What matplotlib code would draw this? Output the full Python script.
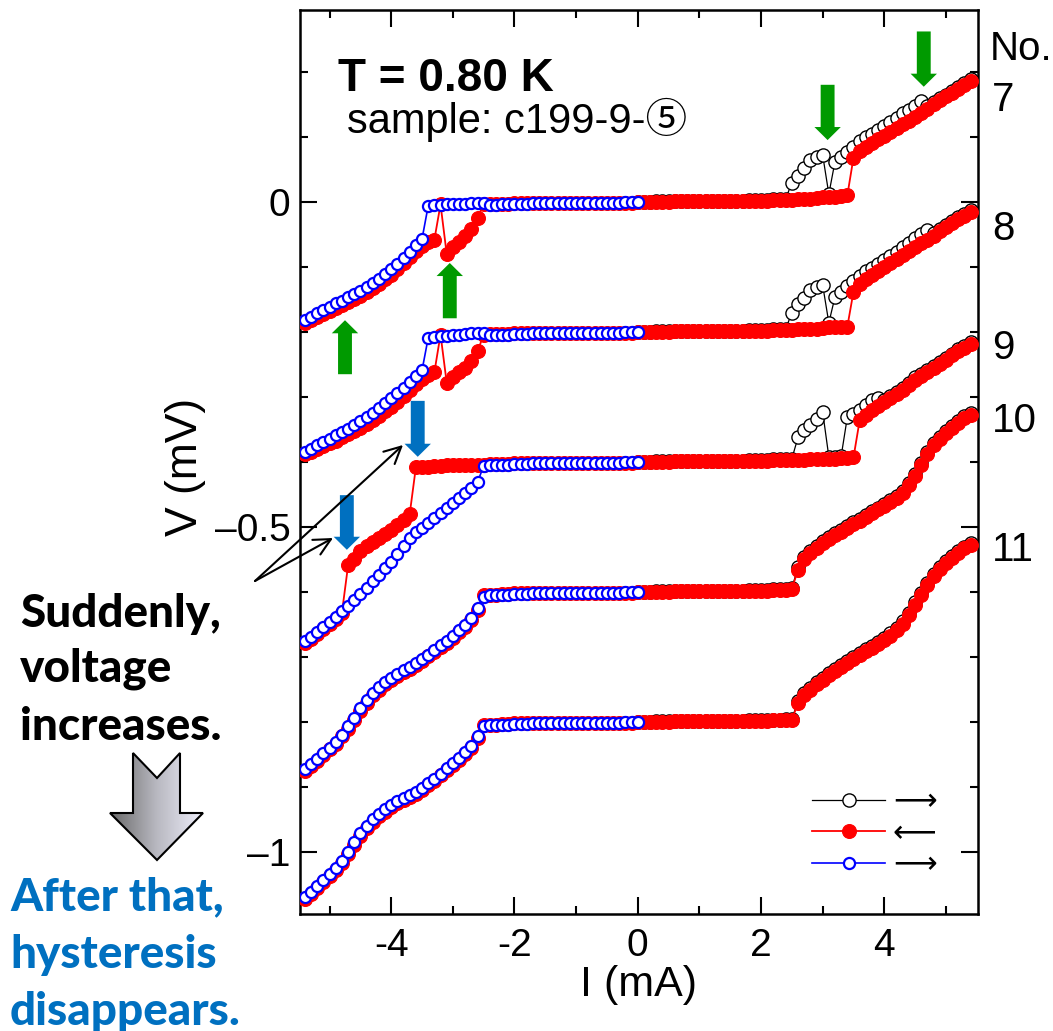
import numpy as np
import matplotlib
matplotlib.use('Agg')
import matplotlib.pyplot as plt
from matplotlib.ticker import MultipleLocator
from matplotlib.colors import LinearSegmentedColormap
from matplotlib.patches import Polygon

plt.rcParams['font.family'] = ['Liberation Sans', 'DejaVu Sans']
plt.rcParams['axes.unicode_minus'] = False

# current steps (mA) of the three sweeps
I_up = np.round(np.arange(0, 55) * 0.1, 1)          # 0 -> 5.4   (black, ->)
I_down = np.round(np.arange(54, -55, -1) * 0.1, 1)  # 5.4 -> -5.4 (red, <-)
I_neg = np.round(np.arange(-54, 1) * 0.1, 1)        # -5.4 -> 0  (blue, ->)

curve_no = ['7', '8', '9', '10', '11']
offsets = [0.0, -0.2, -0.4, -0.6, -0.8]   # vertical shift of each curve (mV)

# superconducting plateau, 0 -> 2.4 mA
flat_up = [0.000, 0.000, 0.000, 0.001, 0.001, 0.001, 0.001, 0.001, 0.001, 0.001,
           0.001, 0.002, 0.002, 0.002, 0.002, 0.002, 0.002, 0.002, 0.003, 0.003,
           0.003, 0.003, 0.004, 0.004, 0.005]
# red sweep plateau, 2.4 -> 0 mA
flat_down = [0.003, 0.003, 0.003, 0.002, 0.002, 0.002, 0.002, 0.002, 0.002, 0.002,
             0.002, 0.001, 0.001, 0.001, 0.001, 0.001, 0.001, 0.001, 0.001, 0.000,
             0.000, 0.000, 0.000, 0.000, 0.000]
# red sweep plateau, -0.1 -> -2.0 mA
flat_neg = [-0.001, -0.001, -0.001, -0.001, -0.001, -0.002, -0.002, -0.002, -0.002, -0.002,
            -0.002, -0.002, -0.002, -0.002, -0.002, -0.002, -0.002, -0.002, -0.002, -0.002]
# blue sweep plateau, -2.4 -> 0 mA
flat_blue = [-0.005, -0.005, -0.004, -0.004, -0.003, -0.003, -0.003, -0.002, -0.002, -0.002,
             -0.002, -0.002, -0.002, -0.001, -0.001, -0.001, -0.001, -0.001, -0.001, -0.001,
             -0.001, -0.001, 0.000, 0.000, 0.000]

# ---- No. 7 ----
black7 = flat_up + [0.029, 0.040, 0.052, 0.065, 0.069,
                    0.072, 0.012, 0.062, 0.069, 0.077, 0.085, 0.093, 0.099, 0.105, 0.111,
                    0.117, 0.123, 0.129, 0.136, 0.142, 0.148, 0.155, 0.147, 0.153, 0.159,
                    0.165, 0.171, 0.177, 0.183, 0.189]
red7 = [0.186, 0.180, 0.174, 0.168, 0.162, 0.156, 0.150, 0.143, 0.137, 0.131,
        0.125, 0.119, 0.113, 0.107, 0.101, 0.096, 0.091, 0.085, 0.078, 0.068,
        0.010, 0.009, 0.008, 0.008, 0.007, 0.006, 0.005, 0.004, 0.004, 0.003] + flat_down + flat_neg + \
       [-0.003, -0.003, -0.003, -0.003, -0.004, -0.025, -0.042, -0.053, -0.061, -0.070,
        -0.080, -0.004, -0.058, -0.062, -0.068, -0.076, -0.085, -0.094, -0.103, -0.112,
        -0.119, -0.126, -0.132, -0.138, -0.144, -0.149, -0.154, -0.159, -0.163, -0.168,
        -0.172, -0.177, -0.181, -0.186]
blue7 = [-0.182, -0.177, -0.171, -0.166, -0.161, -0.156, -0.152, -0.147, -0.142, -0.137,
         -0.131, -0.125, -0.118, -0.111, -0.104, -0.095, -0.086, -0.077, -0.067, -0.057,
         -0.006, -0.005, -0.005, -0.004, -0.004, -0.003, -0.003, -0.002, -0.002, -0.002] + flat_blue

# ---- No. 8 ----
black8 = flat_up + [0.029, 0.043, 0.052, 0.065, 0.069,
                    0.072, 0.014, 0.054, 0.062, 0.070, 0.078, 0.086, 0.093, 0.099, 0.105,
                    0.111, 0.117, 0.123, 0.130, 0.137, 0.144, 0.150, 0.156, 0.152, 0.158,
                    0.164, 0.170, 0.176, 0.182, 0.188]
red8 = [0.185, 0.179, 0.173, 0.167, 0.161, 0.155, 0.148, 0.142, 0.136, 0.130,
        0.124, 0.118, 0.112, 0.106, 0.100, 0.094, 0.088, 0.082, 0.074, 0.062,
        0.008, 0.008, 0.007, 0.007, 0.006, 0.005, 0.005, 0.004, 0.004, 0.003] + flat_down + flat_neg + \
       [-0.003, -0.003, -0.003, -0.003, -0.004, -0.030, -0.045, -0.055, -0.062, -0.070,
        -0.078, -0.004, -0.062, -0.066, -0.072, -0.080, -0.089, -0.098, -0.107, -0.115,
        -0.122, -0.129, -0.135, -0.141, -0.147, -0.152, -0.157, -0.162, -0.167, -0.171,
        -0.175, -0.180, -0.184, -0.188]
blue8 = [-0.185, -0.180, -0.174, -0.169, -0.164, -0.159, -0.154, -0.149, -0.143, -0.137,
         -0.131, -0.124, -0.117, -0.110, -0.102, -0.094, -0.086, -0.077, -0.068, -0.059,
         -0.009, -0.008, -0.007, -0.006, -0.005, -0.004, -0.003, -0.002, -0.002, -0.002] + flat_blue

# ---- No. 9 ----
black9 = flat_up + [0.005, 0.038, 0.049, 0.057, 0.066,
                    0.077, 0.008, 0.008, 0.009, 0.069, 0.074, 0.080, 0.088, 0.095, 0.099,
                    0.096, 0.101, 0.107, 0.114, 0.121, 0.130, 0.136, 0.142, 0.148, 0.154,
                    0.160, 0.166, 0.173, 0.179, 0.185]
red9 = [0.181, 0.176, 0.170, 0.164, 0.157, 0.151, 0.145, 0.139, 0.133, 0.126,
        0.118, 0.111, 0.104, 0.098, 0.092, 0.086, 0.080, 0.073, 0.064, 0.007,
        0.006, 0.006, 0.005, 0.005, 0.004, 0.004, 0.004, 0.003, 0.003, 0.003] + flat_down + flat_neg + \
       [-0.003, -0.003, -0.003, -0.003, -0.004, -0.004, -0.004, -0.004, -0.005, -0.005,
        -0.005, -0.006, -0.006, -0.007, -0.007, -0.008, -0.080, -0.089, -0.097, -0.104,
        -0.110, -0.117, -0.123, -0.129, -0.137, -0.149, -0.159, -0.232, -0.241, -0.249,
        -0.257, -0.265, -0.272, -0.279]
blue9 = [-0.276, -0.269, -0.261, -0.254, -0.246, -0.238, -0.229, -0.221, -0.212, -0.203,
         -0.193, -0.183, -0.173, -0.163, -0.153, -0.141, -0.129, -0.117, -0.108, -0.101,
         -0.094, -0.086, -0.078, -0.070, -0.063, -0.056, -0.048, -0.040, -0.031, -0.006] + flat_blue

# ---- No. 10 ----
black10 = flat_up + [0.006, 0.038, 0.054, 0.063, 0.071,
                     0.078, 0.085, 0.091, 0.096, 0.102, 0.108, 0.113, 0.119, 0.125, 0.130,
                     0.136, 0.141, 0.147, 0.155, 0.167, 0.181, 0.198, 0.215, 0.229, 0.239,
                     0.248, 0.256, 0.263, 0.270, 0.276]
red10 = [0.273, 0.267, 0.260, 0.253, 0.245, 0.236, 0.226, 0.212, 0.195, 0.178,
         0.164, 0.153, 0.145, 0.139, 0.133, 0.127, 0.122, 0.116, 0.110, 0.105,
         0.099, 0.093, 0.088, 0.082, 0.075, 0.068, 0.060, 0.051, 0.034, 0.005] + flat_down + flat_neg + \
        [-0.003, -0.003, -0.004, -0.004, -0.005, -0.027, -0.043, -0.053, -0.062, -0.070,
         -0.078, -0.085, -0.092, -0.099, -0.106, -0.112, -0.118, -0.123, -0.129, -0.135,
         -0.142, -0.150, -0.159, -0.170, -0.183, -0.197, -0.210, -0.222, -0.233, -0.242,
         -0.251, -0.259, -0.267, -0.275]
blue10 = [-0.272, -0.264, -0.256, -0.248, -0.239, -0.230, -0.219, -0.206, -0.193, -0.179,
          -0.166, -0.155, -0.146, -0.138, -0.132, -0.126, -0.120, -0.115, -0.109, -0.103,
          -0.096, -0.089, -0.082, -0.075, -0.067, -0.059, -0.050, -0.040, -0.024, -0.007] + flat_blue

# ---- No. 11 ----
black11 = flat_up + [0.005, 0.032, 0.045, 0.053, 0.061,
                     0.068, 0.075, 0.082, 0.088, 0.094, 0.100, 0.106, 0.112, 0.117, 0.123,
                     0.130, 0.137, 0.145, 0.155, 0.168, 0.184, 0.199, 0.214, 0.228, 0.239,
                     0.248, 0.256, 0.263, 0.270, 0.276]
red11 = [0.273, 0.267, 0.260, 0.253, 0.245, 0.236, 0.225, 0.211, 0.196, 0.180,
         0.164, 0.151, 0.141, 0.133, 0.127, 0.120, 0.114, 0.109, 0.103, 0.097,
         0.091, 0.085, 0.079, 0.072, 0.065, 0.058, 0.050, 0.042, 0.029, 0.004] + flat_down + flat_neg + \
        [-0.003, -0.003, -0.004, -0.004, -0.005, -0.025, -0.039, -0.049, -0.058, -0.066,
         -0.074, -0.082, -0.090, -0.097, -0.104, -0.110, -0.115, -0.120, -0.125, -0.131,
         -0.138, -0.145, -0.153, -0.163, -0.175, -0.189, -0.203, -0.216, -0.227, -0.237,
         -0.246, -0.255, -0.264, -0.272]
blue11 = [-0.269, -0.261, -0.252, -0.243, -0.234, -0.224, -0.213, -0.199, -0.185, -0.171,
          -0.159, -0.149, -0.141, -0.134, -0.128, -0.122, -0.117, -0.112, -0.107, -0.101,
          -0.094, -0.087, -0.079, -0.071, -0.063, -0.055, -0.046, -0.036, -0.022, -0.006] + flat_blue

blacks = [black7, black8, black9, black10, black11]
reds = [red7, red8, red9, red10, red11]
blues = [blue7, blue8, blue9, blue10, blue11]

# arrows marking the jumps: (I, V tail, V tip)
green_arrows = [(3.08, 0.180, 0.095), (4.64, 0.262, 0.177),
                (-4.75, -0.265, -0.182), (-3.05, -0.179, -0.094)]
blue_arrows = [(-4.72, -0.451, -0.535), (-3.57, -0.306, -0.392)]

W, H = 1053, 1031
fig = plt.figure(figsize=(W / 100, H / 100), dpi=100, facecolor='white')
ax = fig.add_axes([300 / W, (H - 914) / H, 678 / W, 904 / H])

for k in range(len(curve_no)):
    off = offsets[k]
    ax.plot(I_up, np.array(blacks[k]) + off, '-o', color='black', lw=0.9, ms=9.5,
            mfc='white', mec='black', mew=1.0, zorder=2, label='\u27f6' if k == 0 else None)
    ax.plot(I_down, np.array(reds[k]) + off, '-o', color='red', lw=1.3, ms=10,
            mfc='red', mec='red', mew=0.8, zorder=3, label='\u27f5' if k == 0 else None)
    ax.plot(I_neg, np.array(blues[k]) + off, '-o', color='blue', lw=1.2, ms=8,
            mfc='white', mec='blue', mew=1.6, zorder=4, label='\u27f6' if k == 0 else None)

arrow_kw = dict(arrowstyle='simple,head_width=0.95,head_length=0.47,tail_width=0.5',
                mutation_scale=20, shrinkA=0, shrinkB=0, lw=0)
for x, v0, v1 in green_arrows:
    ax.annotate('', xy=(x, v1), xytext=(x, v0),
                arrowprops=dict(color='#009a00', **arrow_kw), zorder=6)
for x, v0, v1 in blue_arrows:
    ax.annotate('', xy=(x, v1), xytext=(x, v0),
                arrowprops=dict(color='#0070c0', **arrow_kw), zorder=6)

ax.set_xlim(-5.48, 5.52)
ax.set_ylim(-1.095, 0.295)
ax.set_xticks([-4, -2, 0, 2, 4])
ax.set_xticklabels(['-4', '-2', '0', '2', '4'])
ax.set_yticks([-1, -0.5, 0])
ax.set_yticklabels(['\u20131', '\u20130.5', '0'])
ax.xaxis.set_minor_locator(MultipleLocator(1))
ax.yaxis.set_minor_locator(MultipleLocator(0.1))
ax.tick_params(which='both', direction='in', top=True, right=True, width=1.5, color='black')
ax.tick_params(which='major', length=12, labelsize=28)
ax.tick_params(which='minor', length=6)
ax.tick_params(axis='x', pad=10)
ax.tick_params(axis='y', pad=7)
for s in ax.spines.values():
    s.set_linewidth(1.8)

ax.set_xlabel('I (mA)', fontsize=31, va='center')
ax.xaxis.set_label_coords(0.5, -(985 - 914) / 904)
ax.set_ylabel('V (mV)', fontsize=32, va='center', ha='center')
ax.yaxis.set_label_coords((186 - 300) / 678, 1 - (467 - 10) / 904)

leg = ax.legend(loc='center left', bbox_to_anchor=((812 - 300) / 678, 1 - (834 - 10) / 904),
                frameon=False, fontsize=22, handlelength=2.4, handletextpad=0.25,
                labelspacing=0.05, borderpad=0, borderaxespad=0, numpoints=1)

# overlay in pixel coordinates for the annotations around the plot
ov = fig.add_axes([0, 0, 1, 1])
ov.axis('off')

ov.text(338, 91, 'T = 0.80 K', fontsize=33, fontweight='bold')
ov.text(347, 133, 'sample: c199-9-\u2464', fontsize=30,
        family=['Liberation Sans', 'Noto Sans CJK JP', 'DejaVu Sans'])

ov.text(990, 60, 'No.', fontsize=29)
for lab, y in zip(curve_no, [111, 240, 359, 432, 561]):
    ov.text(992, y, lab, fontsize=29)

pop = dict(fontsize=33, fontweight='black', family=['Lato', 'DejaVu Sans'])
for txt, y in zip(['Suddenly,', 'voltage', 'increases.'], [627, 682, 740]):
    ov.text(20, y, txt, color='black', **pop)
for txt, y in zip(['After that,', 'hysteresis', 'disappears.'], [910, 968, 1025]):
    ov.text(10, y, txt, color='#0070c0', **pop)

# thin arrows pointing at the sudden jumps
for tip in [(333, 538), (403, 445)]:
    ov.annotate('', xy=tip, xytext=(255, 581),
                arrowprops=dict(arrowstyle='->,head_length=0.6,head_width=0.3',
                                mutation_scale=20, lw=1.5, color='black',
                                shrinkA=0, shrinkB=0))

# big grey arrow with a gradient fill
verts = [(133, 753), (157, 778), (180, 753), (180, 813), (203, 813),
         (157, 860), (110, 813), (133, 813)]
poly = Polygon(verts, closed=True, facecolor='none', edgecolor='black', lw=1.5, zorder=3)
ov.add_patch(poly)
grad_cmap = LinearSegmentedColormap.from_list('g', ['#6a6a6a', '#b8b8c0', '#eeeefa'])
img = ov.imshow(np.linspace(0, 1, 100).reshape(1, -1), cmap=grad_cmap, aspect='auto',
                extent=(110, 203, 860, 753), zorder=2)
img.set_clip_path(poly)

ov.set_xlim(0, W)
ov.set_ylim(H, 0)

fig.savefig('out.png', dpi=100, facecolor='white')
